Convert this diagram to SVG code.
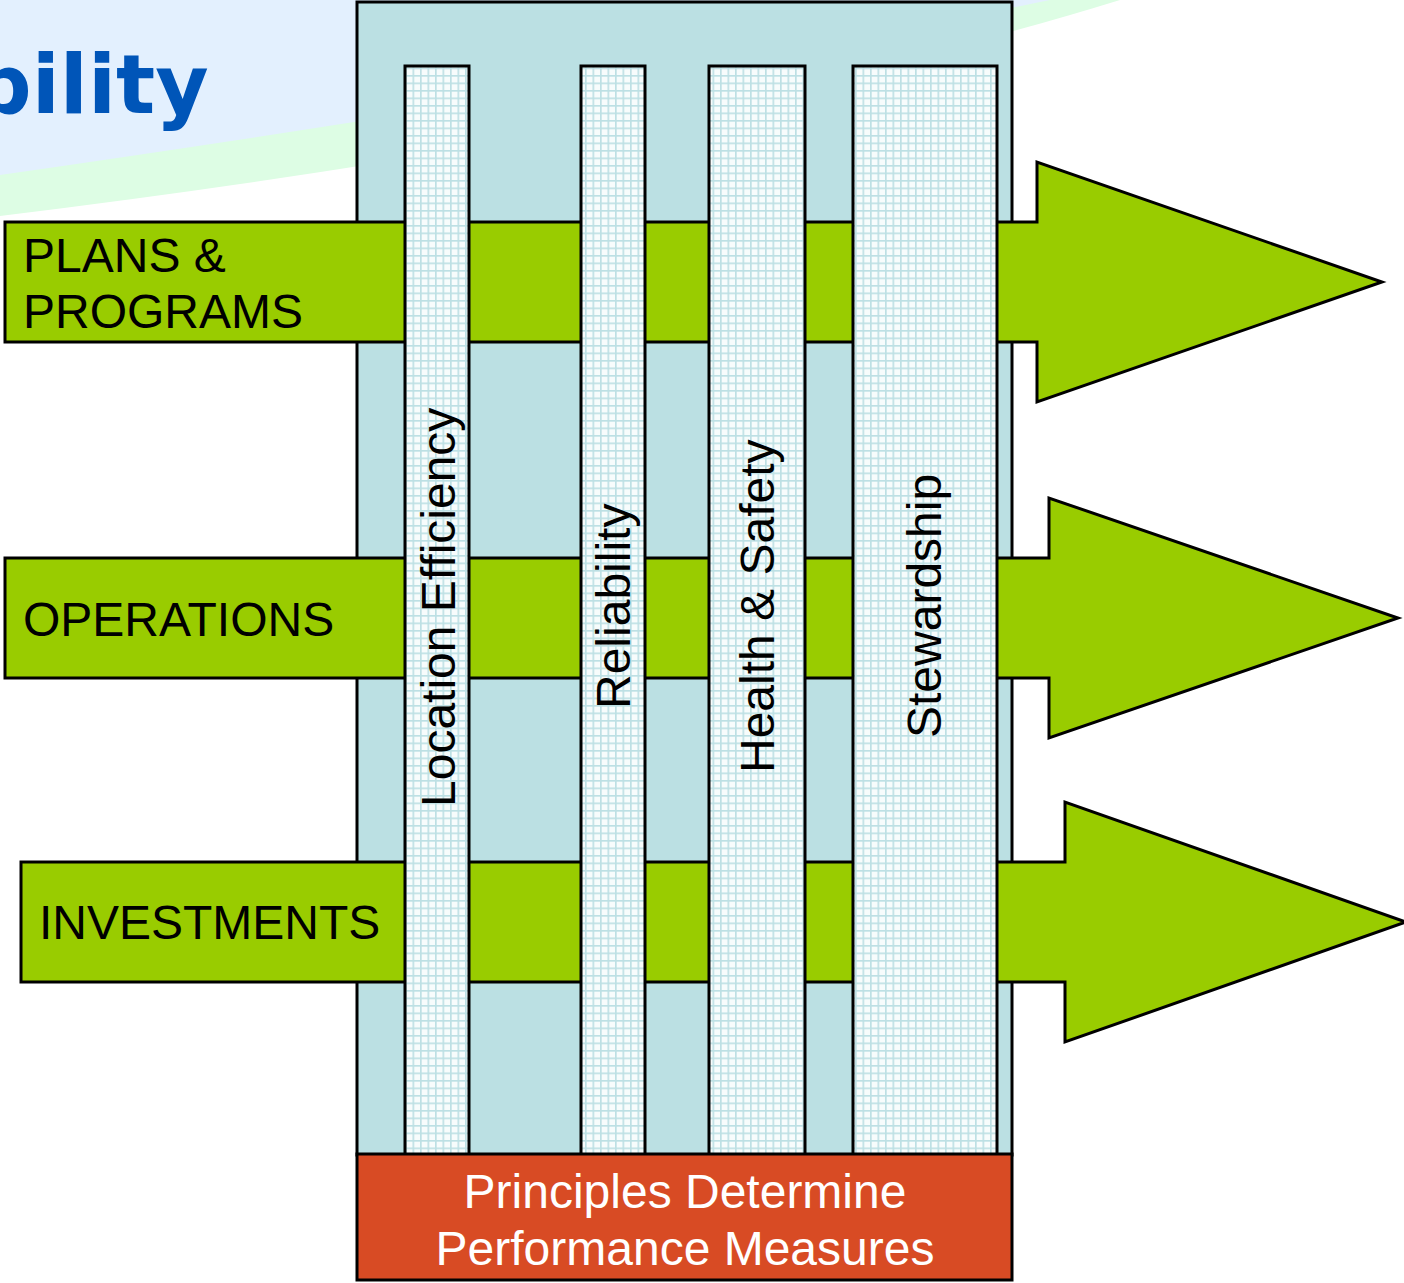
<svg xmlns="http://www.w3.org/2000/svg" width="1404" height="1283" viewBox="0 0 1404 1283">
  <style>
    .band { fill: #99cc00; stroke: #000; stroke-width: 3; stroke-linejoin: miter; }
    .col { fill: url(#grid); stroke: #000; stroke-width: 3; }
    .lbl { font-family: "Liberation Sans", Arial, sans-serif; font-size: 48px; fill: #000; }
    .vlbl { font-family: "Liberation Sans", Arial, sans-serif; font-size: 48px; fill: #000; }
    .foot { font-family: "Liberation Sans", Arial, sans-serif; font-size: 48px; fill: #fff; text-anchor: middle; }
  </style>
  <defs>
    <pattern id="grid" width="7.5" height="7.5" patternUnits="userSpaceOnUse">
      <rect width="7.5" height="7.5" fill="#f7fcfc"/>
      <path d="M0,0.8 H7.5 M0.8,0 V7.5" stroke="#bde0e4" stroke-width="1.7" fill="none"/>
    </pattern>
  </defs>

  <g id="background">
    <rect width="1404" height="1283" fill="#ffffff"/>
    <path d="M0,0 H1120 Q700,130 0,216 Z" fill="#ddfde4"/>
    <path d="M0,0 H1050 Q660,80 0,175 Z" fill="#e3f0fe"/>
    <text x="-27" y="113" font-family="DejaVu Sans, Verdana, sans-serif" font-weight="bold" font-size="82" fill="#0055b8">bility</text>
  </g>

  <g id="framework">
    <rect x="357" y="2" width="655" height="1153" fill="#bbe0e3" stroke="#000" stroke-width="3"/>
  </g>

  <g id="connectors">
    <path id="arrow-plans" class="band" d="M5,222 H1037 V162 L1382,282 L1037,402 V342 H5 Z"/>
    <path id="arrow-operations" class="band" d="M5,558 H1049 V498 L1398,618 L1049,738 V678 H5 Z"/>
    <path id="arrow-investments" class="band" d="M21,862 H1065 V802 L1406,922 L1065,1042 V982 H21 Z"/>
  </g>

  <g id="node-plans">
    <text class="lbl" x="23" y="272">PLANS &amp;</text>
    <text class="lbl" x="23" y="328">PROGRAMS</text>
  </g>
  <g id="node-operations">
    <text class="lbl" x="23" y="636">OPERATIONS</text>
  </g>
  <g id="node-investments">
    <text class="lbl" x="39" y="939">INVESTMENTS</text>
  </g>

  <g id="node-location-efficiency">
    <rect class="col" x="405" y="66" width="64" height="1089"/>
    <text class="vlbl" transform="translate(455,807) rotate(-90)">Location Efficiency</text>
  </g>
  <g id="node-reliability">
    <rect class="col" x="581" y="66" width="64" height="1089"/>
    <text class="vlbl" transform="translate(630,709) rotate(-90)">Reliability</text>
  </g>
  <g id="node-health-safety">
    <rect class="col" x="709" y="66" width="96" height="1089"/>
    <text class="vlbl" transform="translate(774,773) rotate(-90)">Health &amp; Safety</text>
  </g>
  <g id="node-stewardship">
    <rect class="col" x="853" y="66" width="144" height="1089"/>
    <text class="vlbl" transform="translate(941,738) rotate(-90)">Stewardship</text>
  </g>

  <g id="node-principles">
    <rect x="357" y="1154" width="655" height="126" fill="#d84b24" stroke="#000" stroke-width="3"/>
    <text class="foot" x="685" y="1208">Principles Determine</text>
    <text class="foot" x="685" y="1265">Performance Measures</text>
  </g>
</svg>
